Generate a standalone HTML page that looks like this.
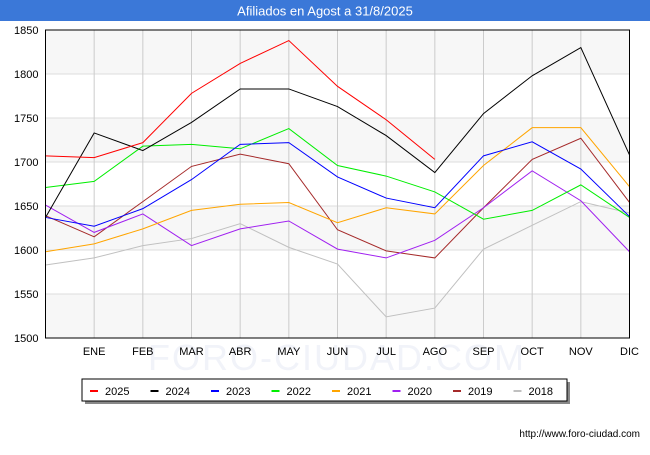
<!DOCTYPE html>
<html><head><meta charset="utf-8"><style>
body{margin:0;background:#fff;font-family:"Liberation Sans",sans-serif}
svg text{font-family:"Liberation Sans",sans-serif}
</style></head><body>
<svg width="650" height="450">
<rect x="0" y="0" width="650" height="21" fill="#3b78d8"/>
<text x="325" y="15.5" text-anchor="middle" fill="#fff" font-size="13">Afiliados en Agost a 31/8/2025</text>
<text x="337" y="370" text-anchor="middle" font-size="36" fill="#f1f3f9" letter-spacing="2">FORO-CIUDAD.COM</text>
<g id="plot"></g>
<text x="640" y="437" text-anchor="end" font-size="10" fill="#000">http://www.foro-ciudad.com</text>
</svg>
<script>
const months=["","ENE","FEB","MAR","ABR","MAY","JUN","JUL","AGO","SEP","OCT","NOV","DIC"];
const yTicks=[1500,1550,1600,1650,1700,1750,1800,1850];
const years=["2025","2024","2023","2022","2021","2020","2019","2018"];
const colors=["#ff0000","#000000","#0000ff","#00ee00","#ffa500","#a020f0","#a52a2a","#c0c0c0"];
const s2025=[1707,1705,1722,1778,1812,1838,1786,1748,1703];
const s2024=[1637,1733,1713,1745,1783,1783,1763,1730,1688,1755,1798,1830,1708];
const s2023=[1637,1627,1647,1680,1720,1722,1683,1659,1648,1707,1723,1692,1638];
const s2022=[1671,1678,1718,1720,1715,1738,1696,1684,1666,1635,1645,1674,1637];
const s2021=[1598,1607,1624,1645,1652,1654,1631,1648,1641,1696,1739,1739,1672];
const s2020=[1651,1620,1641,1605,1624,1633,1601,1591,1611,1648,1690,1656,1598];
const s2019=[1639,1615,1655,1695,1709,1698,1623,1599,1591,1648,1703,1727,1654];
const s2018=[1583,1591,1605,1613,1630,1603,1584,1524,1534,1601,1628,1655,1642];
const series=[s2025,s2024,s2023,s2022,s2021,s2020,s2019,s2018];
const L=45.5,R=629.5,T=30,B=338,yMin=1500,yMax=1850;
const x=i=>L+i*(R-L)/12;
const y=v=>B-(v-yMin)/(yMax-yMin)*(B-T);
const g=document.getElementById('plot');const NS="http://www.w3.org/2000/svg";
function mk(t,a,p){const e=document.createElementNS(NS,t);for(const k in a)e.setAttribute(k,a[k]);(p||g).appendChild(e);return e;}
for(let i=0;i<yTicks.length-1;i++){
 if(i%2==0){const b=mk('rect',{x:L,y:y(yTicks[i+1]),width:R-L,height:y(yTicks[i])-y(yTicks[i+1]),fill:'#f7f7f7'});
 
 }
}
yTicks.forEach(v=>{const l=mk('line',{x1:L,x2:R,y1:y(v),y2:y(v),stroke:'#ddd'});


const t=mk('text',{x:L-7,y:y(v)+4,'text-anchor':'end','font-size':11});t.textContent=v;

});
months.forEach((m,i)=>{if(i>0){const l=mk('line',{x1:x(i),x2:x(i),y1:T,y2:B,stroke:'#ccc'});


const t=mk('text',{x:x(i),y:B+17,'text-anchor':'middle','font-size':11});t.textContent=m;

}});
for(let k=series.length-1;k>=0;k--){const s=series[k];
 const p=mk('polyline',{points:s.map((v,i)=>x(i)+','+y(v)).join(' '),fill:'none',stroke:colors[k],'stroke-width':1});
 
 }
const fr=mk('rect',{x:L,y:T,width:R-L,height:B-T,fill:'none',stroke:'#000'});


const lg=mk('g',{});


mk('rect',{x:85,y:382,width:485,height:22,fill:'#888'},lg);
mk('rect',{x:82,y:379,width:485,height:22,fill:'#fff',stroke:'#000'},lg);
years.forEach((yr,k)=>{const lx=90+k*60.5;
 mk('line',{x1:lx,x2:lx+8,y1:391,y2:391,stroke:colors[k],'stroke-width':2},lg);
 const t=mk('text',{x:lx+15,y:395,'font-size':11},lg);t.textContent=yr;
 
 });
</script>
</body></html>
